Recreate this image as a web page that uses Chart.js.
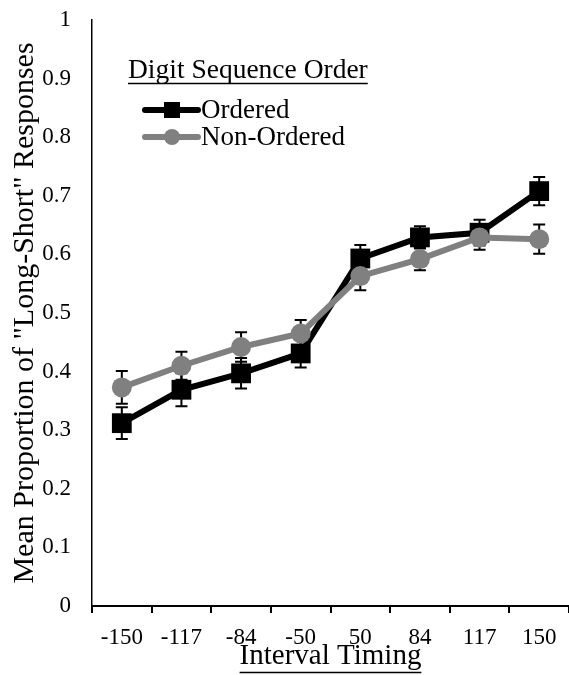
<!DOCTYPE html>
<html>
<head>
<meta charset="utf-8">
<script src="https://cdn.jsdelivr.net/npm/chart.js@4"></script>
<style>
    body { margin: 0; background: #fff; }
    #wrap { width: 569px; height: 675px; }
</style>
</head>
<body>
<div id="wrap"><canvas id="timingChart" width="569" height="675"></canvas></div>
<script>
// interval timing categories (ms)
const timingLabels = ['-150', '-117', '-84', '-50', '50', '84', '117', '150'];

// mean proportion of "long-short" responses, with standard errors
const orderedMeans = [0.312, 0.369, 0.397, 0.431, 0.593, 0.629, 0.637, 0.708];
const orderedErrors = [0.027, 0.028, 0.026, 0.024, 0.023, 0.019, 0.022, 0.024];
const nonOrderedMeans = [0.373, 0.410, 0.442, 0.465, 0.563, 0.592, 0.629, 0.626];
const nonOrderedErrors = [0.028, 0.024, 0.025, 0.023, 0.024, 0.019, 0.021, 0.025];

const serif = '"Liberation Serif", "Times New Roman", serif';
const gray = 'rgb(128, 128, 128)';

// error bars drawn under the markers
const errorBarPlugin = {
    id: 'errorBars',
    beforeDatasetsDraw(chart) {
        const ctx = chart.ctx;
        const yScale = chart.scales.y;
        ctx.save();
        ctx.strokeStyle = '#000';
        ctx.lineWidth = 2;
        chart.data.datasets.forEach((dataset, i) => {
            const meta = chart.getDatasetMeta(i);
            meta.data.forEach((point, j) => {
                const err = dataset.errors[j];
                const yTop = yScale.getPixelForValue(dataset.data[j] + err);
                const yBot = yScale.getPixelForValue(dataset.data[j] - err);
                ctx.beginPath();
                ctx.moveTo(point.x, yTop);
                ctx.lineTo(point.x, yBot);
                ctx.moveTo(point.x - 6, yTop);
                ctx.lineTo(point.x + 6, yTop);
                ctx.moveTo(point.x - 6, yBot);
                ctx.lineTo(point.x + 6, yBot);
                ctx.stroke();
            });
        });
        ctx.restore();
    }
};

// legend with underlined heading, and the x title underline
const legendPlugin = {
    id: 'customLegend',
    afterDraw(chart) {
        const ctx = chart.ctx;
        ctx.save();
        ctx.fillStyle = '#000';
        ctx.strokeStyle = '#000';

        // heading
        ctx.font = '27.5px ' + serif;
        ctx.textBaseline = 'alphabetic';
        ctx.textAlign = 'left';
        const heading = 'Digit Sequence Order';
        ctx.fillText(heading, 128, 78);
        ctx.lineWidth = 1.5;
        ctx.beginPath();
        ctx.moveTo(128, 83.5);
        ctx.lineTo(128 + ctx.measureText(heading).width, 83.5);
        ctx.stroke();

        // entries, listed in dataset order
        const rows = [110, 137];
        const entries = [chart.data.datasets[1], chart.data.datasets[0]];
        entries.forEach((ds, k) => {
            const y = rows[k];
            ctx.strokeStyle = ds.borderColor;
            ctx.fillStyle = ds.borderColor;
            ctx.lineWidth = 6;
            ctx.lineCap = 'round';
            ctx.beginPath();
            ctx.moveTo(145, y);
            ctx.lineTo(198, y);
            ctx.stroke();
            if (ds.pointStyle === 'rect') {
                ctx.fillRect(172 - 8, y - 8, 16, 16);
            } else {
                ctx.beginPath();
                ctx.arc(172, y, 8, 0, Math.PI * 2);
                ctx.fill();
            }
            ctx.fillStyle = '#000';
            ctx.font = '27px ' + serif;
            ctx.textBaseline = 'middle';
            ctx.fillText(ds.label, 201, y + 1);
        });

        // underline under "Interval Timing"
        const xScale = chart.scales.x;
        ctx.font = '29px ' + serif;
        const w = ctx.measureText(xScale.options.title.text).width;
        const cx = (chart.chartArea.left + chart.chartArea.right) / 2;
        ctx.strokeStyle = '#000';
        ctx.lineWidth = 1.5;
        ctx.lineCap = 'butt';
        ctx.beginPath();
        ctx.moveTo(cx - w / 2, 672.5);
        ctx.lineTo(cx + w / 2, 672.5);
        ctx.stroke();
        ctx.restore();
    }
};

const ctx = document.getElementById('timingChart').getContext('2d');

new Chart(ctx, {
    type: 'line',
    data: {
        labels: timingLabels,
        datasets: [{
            label: 'Non-Ordered',
            data: nonOrderedMeans,
            errors: nonOrderedErrors,
            borderColor: gray,
            backgroundColor: gray,
            borderWidth: 6,
            pointStyle: 'circle',
            pointRadius: 10,
            pointBorderWidth: 0,
            pointBackgroundColor: gray,
            tension: 0,
            order: 1
        }, {
            label: 'Ordered',
            data: orderedMeans,
            errors: orderedErrors,
            borderColor: '#000',
            backgroundColor: '#000',
            borderWidth: 6,
            pointStyle: 'rect',
            pointRadius: 14,
            pointBorderWidth: 0,
            pointBackgroundColor: '#000',
            tension: 0,
            order: 2
        }]
    },
    options: {
        responsive: false,
        animation: false,
        events: [],
        layout: {
            autoPadding: false,
            padding: { top: 20, right: 0, bottom: 0, left: 0 }
        },
        plugins: {
            legend: { display: false },
            tooltip: { enabled: false }
        },
        scales: {
            x: {
                offset: true,
                grid: {
                    offset: true,
                    drawOnChartArea: false,
                    drawTicks: true,
                    tickLength: 7,
                    color: '#000',
                    lineWidth: 2
                },
                border: { display: true, color: '#000', width: 2 },
                ticks: {
                    color: '#000',
                    font: { family: serif, size: 23 },
                    padding: 11,
                    maxRotation: 0
                },
                title: {
                    display: true,
                    text: 'Interval Timing',
                    color: '#000',
                    font: { family: serif, size: 29 },
                    padding: { top: 0, bottom: 1 }
                },
                afterFit: scale => {
                    scale.height = 69;
                    scale.paddingLeft = 0;
                    scale.paddingRight = 0;
                }
            },
            y: {
                min: 0,
                max: 1,
                ticks: {
                    stepSize: 0.1,
                    color: '#000',
                    font: { family: serif, size: 23 },
                    padding: 21,
                    callback: value => String(Math.round(value * 10) / 10)
                },
                grid: { display: false, drawTicks: false },
                border: { display: true, color: '#000', width: 1.5 },
                title: {
                    display: true,
                    text: 'Mean Proportion of "Long-Short" Responses',
                    color: '#000',
                    font: { family: serif, size: 30 },
                    padding: { top: 7, bottom: 0 }
                },
                afterFit: scale => {
                    scale.width = 92;
                    scale.paddingTop = 0;
                    scale.paddingBottom = 0;
                }
            }
        }
    },
    plugins: [errorBarPlugin, legendPlugin]
});
</script>
</body>
</html>
